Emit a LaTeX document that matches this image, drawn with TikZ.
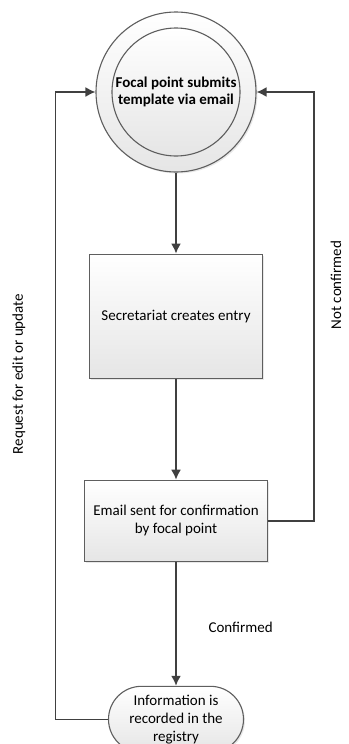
\documentclass[tikz,border=0pt]{standalone}
\usepackage{fontspec}
\setmainfont{Carlito}
\usepackage{tikz}
\usetikzlibrary{shapes,arrows.meta,positioning,shadows}

\definecolor{linegray}{HTML}{404040}
\definecolor{edgegray}{HTML}{5E5E5E}

\begin{document}
\begin{tikzpicture}[
    font=\fontsize{15pt}{18pt}\selectfont,
    shade/.style={top color=white, bottom color=black!10, draw=edgegray, line width=1.1pt},
    shadow/.style={drop shadow={opacity=0.18, shadow xshift=1.5pt, shadow yshift=-1.5pt}},
    block/.style={rectangle, shade, shadow, align=center, minimum width=173pt, minimum height=124pt, inner sep=0pt},
    start/.style={circle, shade, shadow, minimum size=160pt, inner sep=0pt},
    startin/.style={circle, shade, minimum size=128pt, inner sep=0pt, align=center, font=\fontsize{15pt}{17pt}\selectfont\bfseries},
    term/.style={rounded rectangle, shade, shadow, align=center, minimum width=135pt, minimum height=66pt, inner sep=0pt},
    line/.style={draw=linegray, line width=1.6pt, -{Latex[length=10pt,width=10pt]}}
]
    \useasboundingbox (0,0) rectangle (348pt,-744pt);

    % Registration steps
    \node [start] (submit) at (176pt,-92pt) {};
    \node [startin] (submitin) at (submit) {Focal point submits\\template via email};
    \node [block, below=81pt of submit] (entry) {Secretariat creates entry};
    \node [block, below=101pt of entry, minimum width=183pt, minimum height=81pt] (confirm) {Email sent for confirmation\\by focal point};
    \node [term, below=124pt of confirm] (registry) {Information is\\recorded in the\\registry};

    % Connections
    \path [line] (submit) -- (entry);
    \path [line] (entry) -- (confirm);
    \path [line] (confirm) -- (registry);
    \path [line] (confirm.east) -- ++(46pt,0) |- (submit.east);
    \path [line] (registry.west) -- ++(-52.5pt,0) |- (submit.west);

    % Labels
    \node [anchor=base west] (conf) at (205pt,-632pt) {Confirmed};
    \node [rotate=90, anchor=base] (notconf) at (341pt,-285pt) {Not confirmed};
    \node [rotate=90, anchor=base] (request) at (23pt,-374pt) {Request for edit or update};

\end{tikzpicture}
\end{document}
